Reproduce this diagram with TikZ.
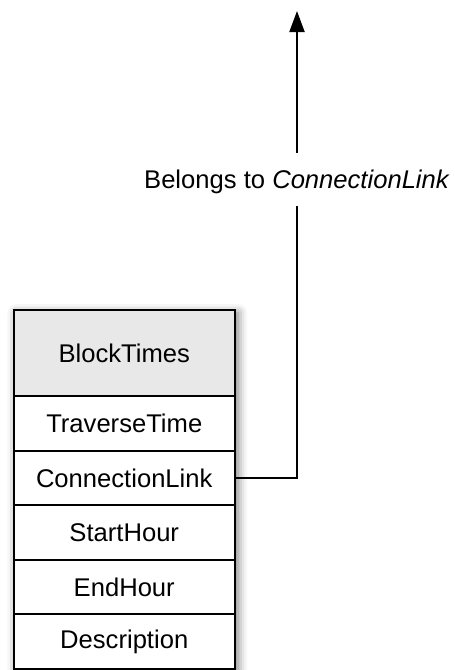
\documentclass[tikz,border=0pt]{standalone}
\usepackage{fontspec}
\setmainfont{Liberation Sans}
\usetikzlibrary{arrows.meta,shadows.blur}
\definecolor{hdrgray}{HTML}{E8E8E8}
\begin{document}
\begin{tikzpicture}[x=1pt,y=-1pt,
  font=\fontsize{25.6}{30}\selectfont,
  cell/.style={draw=black, line width=2pt, fill=white, inner sep=0pt,
    minimum width=221.5pt, minimum height=54.6pt},
  hdrcell/.style={cell, fill=hdrgray, minimum height=86pt},
  link/.style={draw=black, line width=2pt},
  lbl/.style={inner sep=0pt, text height=18.3pt, text depth=5.4pt}]
\useasboundingbox (0,0) rectangle (455,670);

% soft shadow under the whole table
\fill[white, blur shadow={shadow xshift=3pt, shadow yshift=-3pt,
  shadow blur radius=9pt, shadow opacity=55}]
  (13.5,310) rectangle (235,669);

% table: header and attribute rows
\node[hdrcell] (head) at (124.25,353) {BlockTimes};
\node[cell] (r1) at (124.25,423.3) {TraverseTime};
\node[cell] (r2) at (124.25,477.9) {ConnectionLink};
\node[cell] (r3) at (124.25,532.5) {StartHour};
\node[cell] (r4) at (124.25,587.1) {EndHour};
\node[cell] (r5) at (124.25,641.7) {Description};

% relationship label and its connector
\node[lbl] (rel) at (297,182.2) {Belongs to \textit{ConnectionLink}};
\coordinate (gapbot) at ([yshift=-12pt]rel.south);
\coordinate (gaptop) at ([yshift=17pt]rel.north);
\coordinate (tip) at (297,11);
\draw[link] (r2.east) -| (gapbot);
\draw[link, -{Triangle[width=15pt,length=21pt]}] (gaptop) -- (tip);
\end{tikzpicture}
\end{document}
